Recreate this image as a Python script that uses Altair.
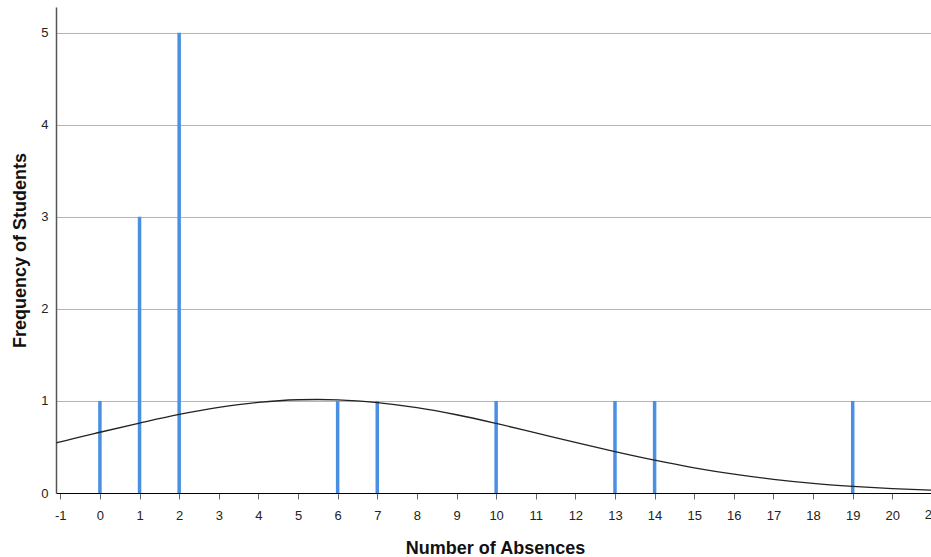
import altair as alt
import pandas as pd

# Observed absences and their frequencies (spikes)
absences = [0, 1, 2, 6, 7, 10, 13, 14, 19]
frequency = [1, 3, 5, 1, 1, 1, 1, 1, 1]

# Normal curve heights
curve_x = [-1.1, -1, 0, 1, 2, 3, 4, 5, 5.5, 6, 7, 8, 9, 10, 11, 12, 13, 14, 15, 16, 17, 18, 19, 20, 21]
curve_y = [0.545, 0.556, 0.66, 0.76, 0.854, 0.93, 0.985, 1.013, 1.016, 1.012, 0.982, 0.927, 0.85,
           0.756, 0.654, 0.55, 0.449, 0.356, 0.274, 0.205, 0.149, 0.105, 0.073, 0.048, 0.031]

x_ticks = list(range(-1, 21))
y_ticks = [0, 1, 2, 3, 4, 5]
edge_tick = [21]  # the last tick label, cut by the right edge

bars = pd.DataFrame({"x": absences, "y": frequency})
curve = pd.DataFrame({"x": curve_x, "y": curve_y})
edge = pd.DataFrame({"x": edge_tick, "y": [0], "label": [str(v) for v in edge_tick]})

FONT = "Liberation Sans"
x_scale = alt.Scale(domain=[-1.1085, 20.976], nice=False, zero=False)
y_scale = alt.Scale(domain=[0, 5.28], nice=False)

x_axis = alt.Axis(
    title="Number of Absences", values=x_ticks, labelExpr="'' + datum.value",
    grid=False, domainColor="#000000", domainWidth=1.2,
    tickColor="#666666", tickSize=6, labelPadding=10,
    labelFont=FONT, labelFontSize=13, labelColor="#222222",
    titleFont=FONT, titleFontSize=18, titleFontWeight="bold", titleColor="#111111",
    titleY=60, titleX=439, titleBaseline="alphabetic", labelFlush=False,
)
y_axis = alt.Axis(
    title="Frequency of Students", values=y_ticks, format="d",
    grid=True, gridColor="#b4b4b4", gridWidth=1,
    domainColor="#555555", domainWidth=1.5, ticks=False, labelPadding=8,
    labelFont=FONT, labelFontSize=13, labelColor="#222222",
    titleFont=FONT, titleFontSize=18, titleFontWeight="bold", titleColor="#111111",
    titleX=-31, titleY=243, titleBaseline="alphabetic", titleAngle=270,
)

spikes = alt.Chart(bars).mark_rule(color="#4A90E2", strokeWidth=3.5).encode(
    x=alt.X("x:Q", scale=x_scale, axis=x_axis),
    y=alt.Y("y:Q", scale=y_scale, axis=y_axis),
    y2=alt.datum(0),
)

line = alt.Chart(curve).mark_line(color="#222222", strokeWidth=1.3, interpolate="monotone", clip=True).encode(
    x=alt.X("x:Q", scale=x_scale),
    y=alt.Y("y:Q", scale=y_scale),
)

edge_label = alt.Chart(edge).mark_text(
    font=FONT, fontSize=13, color="#222222", baseline="top", align="center", dy=16, clip=False
).encode(
    x=alt.X("x:Q", scale=x_scale),
    y=alt.Y("y:Q", scale=y_scale),
    text="label:N",
)

chart = alt.layer(spikes, line, edge_label).properties(
    width=875, height=486,
    autosize=alt.AutoSizeParams(type="none"),
    padding={"left": 56, "top": 7, "right": 0, "bottom": 64},
    background="white",
).configure_view(stroke=None)

chart.save("out.html", embed_options={"renderer": "svg", "actions": False})
